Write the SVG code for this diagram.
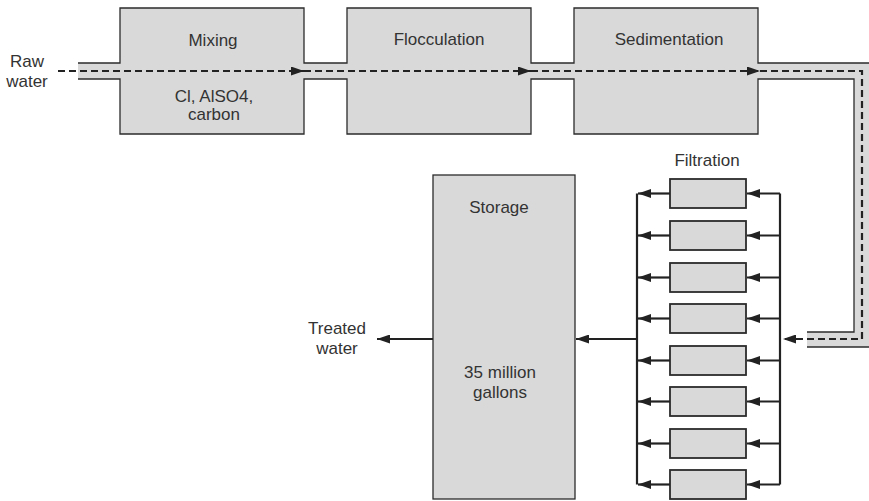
<svg xmlns="http://www.w3.org/2000/svg" width="869" height="501" viewBox="0 0 869 501">
<defs>
<style>
text{font-family:"Liberation Sans",Arial,sans-serif;font-size:17px;fill:#333;text-anchor:middle}
.box{fill:#d9d9d9;stroke:#2b2b2b;stroke-width:1.3}
.fbox{fill:#d9d9d9;stroke:#2b2b2b;stroke-width:1.8}
.outline{fill:none;stroke:#2b2b2b;stroke-width:1.3}
.dash{fill:none;stroke:#222;stroke-width:2.2;stroke-dasharray:7 4}
.solid{fill:none;stroke:#222;stroke-width:2.2}
</style>
<marker id="ah" markerUnits="userSpaceOnUse" markerWidth="13" markerHeight="9" refX="13" refY="4.5" orient="auto">
<path d="M0,0 L13,4.5 L0,9 Z" fill="#222"/>
</marker>
</defs>
<rect width="869" height="501" fill="#fff"/>
<!-- pipe fill -->
<g id="pipe">
<path d="M78,63 H875 V347 H807 V332 H854 V79 H78 Z" fill="#d9d9d9"/>
</g>
<g id="mixing">
<rect x="120" y="8" width="184" height="126" fill="#d9d9d9"/>
<text x="213" y="46">Mixing</text>
<text x="214" y="102">Cl, AlSO4,</text>
<text x="214" y="120">carbon</text>
</g>
<g id="flocculation">
<rect x="347" y="8" width="184" height="126" fill="#d9d9d9"/>
<text x="439" y="45">Flocculation</text>
</g>
<g id="sedimentation">
<rect x="574" y="8" width="184" height="126" fill="#d9d9d9"/>
<text x="669" y="45">Sedimentation</text>
</g>
<g id="pipe-outline">
<path class="outline" d="M78,63 H120 V8 H304 V63 H347 V8 H531 V63 H574 V8 H758 V63 H875"/>
<path class="outline" d="M78,79 H120 V134 H304 V79 H347 V134 H531 V79 H574 V134 H758 V79 H854 V332 H807"/>
<path class="outline" d="M807,347 H875"/>
</g>
<g id="raw-water">
<text x="27" y="67">Raw</text>
<text x="27" y="87">water</text>
</g>
<g id="filtration">
<text x="707" y="166">Filtration</text>
<rect class="fbox" x="670" y="179" width="76" height="29"/>
<rect class="fbox" x="670" y="221" width="76" height="29"/>
<rect class="fbox" x="670" y="263" width="76" height="29"/>
<rect class="fbox" x="670" y="304" width="76" height="29"/>
<rect class="fbox" x="670" y="346" width="76" height="29"/>
<rect class="fbox" x="670" y="387" width="76" height="29"/>
<rect class="fbox" x="670" y="429" width="76" height="29"/>
<rect class="fbox" x="670" y="470" width="76" height="29"/>
</g>
<g id="storage">
<rect class="box" x="433" y="175" width="142" height="324"/>
<text x="499" y="213">Storage</text>
<text x="500" y="378">35 million</text>
<text x="500" y="398">gallons</text>
</g>
<g id="treated-water">
<text x="337" y="334">Treated</text>
<text x="337" y="354">water</text>
</g>
<g id="connectors">
<path class="dash" d="M58,71 H304" marker-end="url(#ah)"/>
<path class="dash" d="M304,71 H531" marker-end="url(#ah)"/>
<path class="dash" d="M531,71 H760" marker-end="url(#ah)"/>
<path class="dash" d="M760,71 H862 V339 H783" marker-end="url(#ah)"/>
<path class="solid" d="M780,193.5 V484.5 M637,193.5 V484.5"/>
<path class="solid" d="M780,193.5 H747" marker-end="url(#ah)"/>
<path class="solid" d="M780,235.5 H747" marker-end="url(#ah)"/>
<path class="solid" d="M780,277.5 H747" marker-end="url(#ah)"/>
<path class="solid" d="M780,318.5 H747" marker-end="url(#ah)"/>
<path class="solid" d="M780,360.5 H747" marker-end="url(#ah)"/>
<path class="solid" d="M780,401.5 H747" marker-end="url(#ah)"/>
<path class="solid" d="M780,443.5 H747" marker-end="url(#ah)"/>
<path class="solid" d="M780,484.5 H747" marker-end="url(#ah)"/>
<path class="solid" d="M670,193.5 H638" marker-end="url(#ah)"/>
<path class="solid" d="M670,235.5 H638" marker-end="url(#ah)"/>
<path class="solid" d="M670,277.5 H638" marker-end="url(#ah)"/>
<path class="solid" d="M670,318.5 H638" marker-end="url(#ah)"/>
<path class="solid" d="M670,360.5 H638" marker-end="url(#ah)"/>
<path class="solid" d="M670,401.5 H638" marker-end="url(#ah)"/>
<path class="solid" d="M670,443.5 H638" marker-end="url(#ah)"/>
<path class="solid" d="M670,484.5 H638" marker-end="url(#ah)"/>
<path class="solid" d="M637,339 H576" marker-end="url(#ah)"/>
<path class="solid" d="M433,339 H377" marker-end="url(#ah)"/>
</g>
</svg>
